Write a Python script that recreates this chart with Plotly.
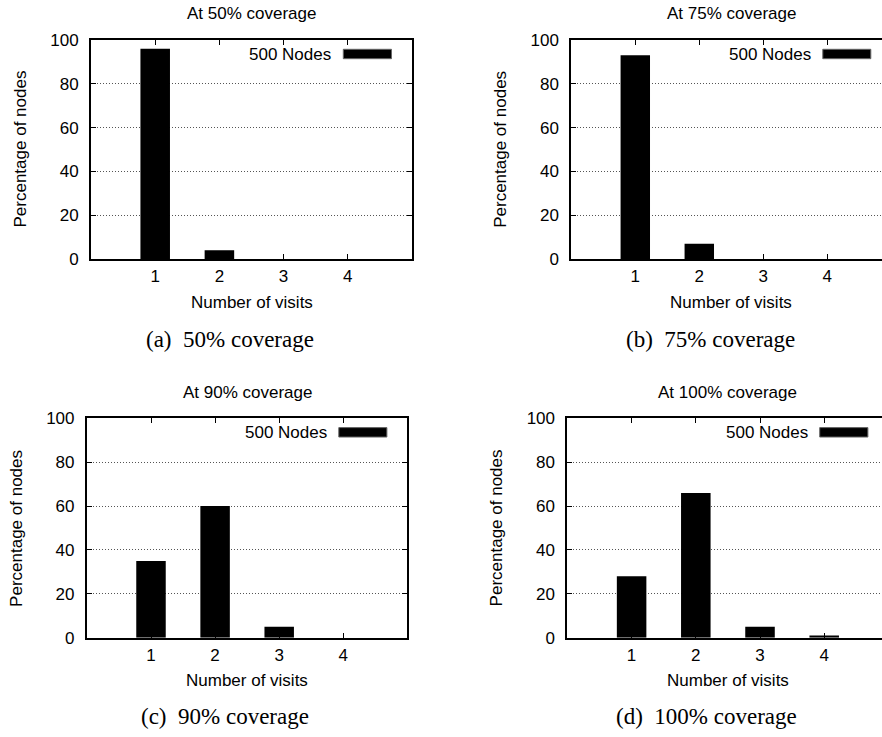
import plotly.graph_objects as go

visits = [1, 2, 3, 4]
cov50 = [96, 4, 0, 0]
cov75 = [93, 7, 0, 0]
cov90 = [35, 60, 5, 0]
cov100 = [28, 66, 5, 1]
series = [cov50, cov75, cov90, cov100]
titles = ["At 50% coverage", "At 75% coverage", "At 90% coverage", "At 100% coverage"]
captions = ["(a)\u00a0\u00a050% coverage", "(b)\u00a0\u00a075% coverage",
            "(c)\u00a0\u00a090% coverage", "(d)\u00a0\u00a0100% coverage"]
legend_name = "500 Nodes"
xtitle = "Number of visits"
ytitle = "Percentage of nodes"
yticks = [0, 20, 40, 60, 80, 100]

W, H = 882, 737
OFF = 0  # body margin removed below
# panel geometry in page pixels: left, right, top, bottom, x-range max
panels = [
    (91.0, 412.0, 40.0, 259.0, 5.0),
    (571.3, 882.0, 40.0, 259.0, 4.855),
    (86.9, 407.4, 418.3, 637.7, 5.0),
    (567.4, 882.0, 418.3, 637.7, 4.90),
]
cap_pos = [(229.5, 339.0), (710.5, 339.0), (225.0, 716.0), (706.0, 716.0)]

SANS = "Liberation Sans, Arial, sans-serif"
SERIF = "Liberation Serif, Times New Roman, serif"

fig = go.Figure()
layout = dict(
    template="none",
    width=W, height=H, autosize=False,
    margin=dict(l=0, r=0, t=0, b=0, pad=0, autoexpand=False),
    paper_bgcolor="white", plot_bgcolor="white",
    showlegend=False, hovermode=False,
    font=dict(family=SANS, size=17, color="black"),
)
annotations = []
shapes = []

for i, (vals, (l, r, t, b, xmax)) in enumerate(zip(series, panels)):
    n = "" if i == 0 else str(i + 1)
    xa, ya = "x" + n, "y" + n
    right_panel = i in (1, 3)
    fig.add_trace(go.Bar(
        x=visits, y=vals, width=0.46, name=legend_name,
        marker=dict(color="black", line=dict(width=0)),
        xaxis=xa, yaxis=ya,
    ))
    layout["xaxis" + n] = dict(
        domain=[(l - OFF) / W, min(1.0, (r - OFF) / W)], range=[0, xmax], anchor=ya,
        automargin=False,
        tickvals=visits, ticks="inside", ticklen=5, tickwidth=1, tickcolor="black",
        showline=True, linecolor="black", linewidth=2, mirror="ticks",
        showgrid=False, zeroline=False, ticklabelstandoff=1,
        tickfont=dict(family=SANS, size=17, color="black"),
        fixedrange=True,
    )
    layout["yaxis" + n] = dict(
        domain=[1 - (b - OFF) / H, 1 - (t - OFF) / H], range=[0, 100], anchor=xa,
        automargin=False,
        tickvals=yticks, ticks="inside", ticklen=5, tickwidth=1, tickcolor="black",
        showline=True, linecolor="black", linewidth=2,
        mirror=False if right_panel else "ticks",
        showgrid=True, gridcolor="#555555", gridwidth=1, griddash="1px,2px",
        zeroline=False, ticklabelstandoff=7,
        tickfont=dict(family=SANS, size=17, color="black"),
        fixedrange=True,
    )
    # title
    annotations.append(dict(text=titles[i], xref=xa, yref=ya + " domain", x=2.5, y=1,
                            yshift=26, showarrow=False, xanchor="center", yanchor="middle",
                            font=dict(family=SANS, size=17, color="black")))
    # x title
    annotations.append(dict(text=xtitle, xref=xa, yref=ya + " domain", x=2.5, y=0,
                            yshift=-43, showarrow=False, xanchor="center", yanchor="middle",
                            font=dict(family=SANS, size=17, color="black")))
    # y title
    annotations.append(dict(text=ytitle, xref=xa + " domain", yref=ya + " domain", x=0, y=0.5,
                            xshift=-71, showarrow=False, textangle=-90,
                            xanchor="center", yanchor="middle",
                            font=dict(family=SANS, size=17, color="black")))
    # legend text + key
    annotations.append(dict(text=legend_name, xref=xa, yref=ya + " domain", x=3.93, y=0.936,
                            xshift=-10, showarrow=False, xanchor="right", yanchor="middle",
                            font=dict(family=SANS, size=17, color="black")))
    shapes.append(dict(type="rect", xref=xa, yref=ya + " domain", x0=3.93, x1=4.68,
                       y0=0.9146, y1=0.9575, fillcolor="black",
                       line=dict(color="#666666", width=1)))
    # caption
    cx, cy = cap_pos[i]
    annotations.append(dict(text=captions[i], xref="paper", yref="paper",
                            x=(cx - OFF) / W, y=1 - (cy - OFF) / H,
                            showarrow=False, xanchor="center", yanchor="middle",
                            font=dict(family=SERIF, size=23, color="black")))

layout["annotations"] = annotations
layout["shapes"] = shapes
fig.update_layout(**layout)
fig.write_html("out.html",
               config={"displayModeBar": False, "staticPlot": True},
               post_script="document.body.style.margin='0';document.body.style.overflow='hidden';")
